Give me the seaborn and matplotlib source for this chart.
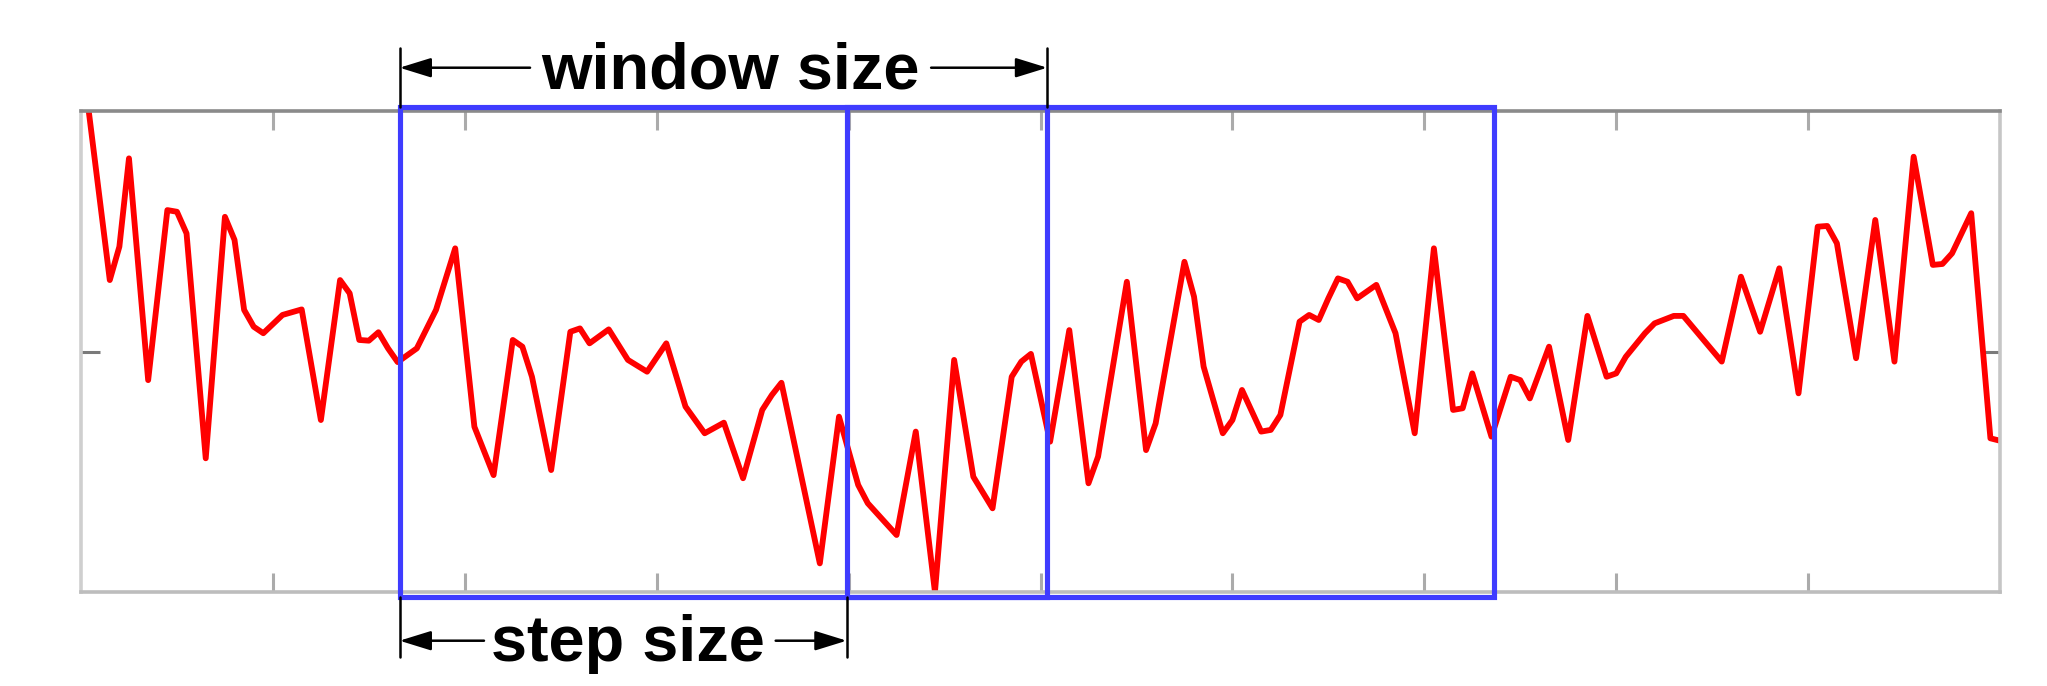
import matplotlib
matplotlib.use("Agg")
import matplotlib.pyplot as plt
from matplotlib.patches import Rectangle
import seaborn as sns
import pandas as pd

# ---- data ----
sample_index = [0, 3, 4, 5, 7, 9, 10, 11, 13, 15, 16, 17, 18, 19, 21, 23, 25, 27, 28, 29,
                30, 31, 32, 33, 35, 37, 39, 41, 43, 45, 46, 47, 49, 51, 52, 53, 55, 57, 59, 61,
                63, 65, 67, 69, 71, 72, 73, 77, 79, 81, 82, 85, 87, 89, 91, 93, 95, 97, 98, 99,
                101, 103, 105, 106, 109, 111, 112, 115, 116, 117, 119, 120, 121, 123, 124, 125,
                127, 128, 129, 130, 131, 132, 133, 134, 135, 137, 139, 141, 143, 144, 145, 147,
                149, 150, 151, 153, 155, 157, 159, 160, 161, 163, 164, 166, 167, 171, 173, 175,
                177, 179, 181, 182, 183, 185, 187, 189, 191, 193, 194, 195, 197, 199, 200]
signal_value = [2.258, 1.297, 1.436, 1.803, 0.881, 1.588, 1.581, 1.491, 0.556, 1.560, 1.464,
                1.173, 1.103, 1.076, 1.152, 1.175, 0.715, 1.297, 1.242, 1.048, 1.045, 1.080,
                1.013, 0.956, 1.013, 1.173, 1.429, 0.687, 0.486, 1.048, 1.020, 0.895, 0.507,
                1.082, 1.096, 1.034, 1.092, 0.965, 0.916, 1.034, 0.771, 0.660, 0.704, 0.473,
                0.757, 0.819, 0.870, 0.119, 0.729, 0.445, 0.369, 0.237, 0.667, 0.000, 0.965,
                0.479, 0.348, 0.895, 0.958, 0.990, 0.625, 1.089, 0.452, 0.563, 1.290, 0.590,
                0.701, 1.373, 1.228, 0.937, 0.660, 0.715, 0.840, 0.667, 0.674, 0.736, 1.124,
                1.152, 1.131, 1.221, 1.304, 1.290, 1.221, 1.249, 1.277, 1.076, 0.660, 1.429,
                0.757, 0.764, 0.909, 0.646, 0.895, 0.881, 0.805, 1.020, 0.632, 1.148, 0.895,
                0.909, 0.978, 1.076, 1.117, 1.148, 1.148, 0.958, 1.311, 1.082, 1.346, 0.826,
                1.519, 1.522, 1.450, 0.972, 1.547, 0.958, 1.810, 1.360, 1.364, 1.408, 1.575,
                0.639, 0.629]
window_starts = [33.2, 79.8]
window_size = 67.5
step_size = window_starts[1] - window_starts[0]
labels = ["window size", "step size"]

# ---- style ----
sns.set_theme(style="white")
plt.rcParams["font.family"] = ["Liberation Sans", "DejaVu Sans"]

fig = plt.figure(figsize=(20.47, 6.86), dpi=100)
ax = fig.add_axes([81 / 2047, (686 - 592) / 686, (2000 - 81) / 2047, (592 - 111) / 686])

df = pd.DataFrame({"x": sample_index, "y": signal_value})
sns.lineplot(data=df, x="x", y="y", ax=ax, color="#ff0000", linewidth=4.2,
             estimator=None, sort=True, zorder=2)

ax.set_xlim(0, 200)
ax.set_ylim(0, 2)
ax.set_xticks(range(20, 200, 20))
ax.set_yticks([1])
ax.set_xlabel("")
ax.set_ylabel("")
ax.tick_params(axis="x", direction="in", length=13.5, width=2.2, color="#ababab",
               top=True, bottom=True, labelbottom=False, labeltop=False)
ax.tick_params(axis="y", direction="in", length=13.5, width=2.2, color="#7a7a7a",
               left=True, right=True, labelleft=False, labelright=False)
spine_colors = {"top": "#8a8a8a", "left": "#cfcfcf", "bottom": "#bdbdbd", "right": "#c6c6c6"}
for side, col in spine_colors.items():
    ax.spines[side].set_color(col)
    ax.spines[side].set_linewidth(2.6)
    ax.spines[side].set_visible(True)

# ---- sliding windows ----
blue = "#3f3cff"
for s in window_starts:
    ax.add_patch(Rectangle((s, -0.02), window_size, 2.035, fill=False, edgecolor=blue,
                           linewidth=3.7, clip_on=False, zorder=4))

# ---- annotations ----
fs = 46.7
black_kw = dict(color="black", linewidth=1.8, clip_on=False, zorder=5)
arrow_props = dict(arrowstyle="-|>,head_length=0.97,head_width=0.3", mutation_scale=20,
                   color="black", linewidth=1.8, shrinkA=0, shrinkB=0)

# window size (top)
w0, w1 = window_starts[0], window_starts[0] + window_size
ax.plot([w0, w0], [2.015, 2.263], **black_kw)
ax.plot([w1, w1], [2.015, 2.263], **black_kw)
ax.annotate("", xy=(w0, 2.18), xytext=(46.8, 2.18), arrowprops=arrow_props,
            annotation_clip=False)
ax.annotate("", xy=(w1, 2.18), xytext=(88.6, 2.18), arrowprops=arrow_props,
            annotation_clip=False)
ax.text(67.7, 2.094, labels[0], ha="center", va="baseline", fontsize=fs,
        fontweight="bold", color="black", clip_on=False)

# step size (bottom)
s0, s1 = window_starts[0], window_starts[0] + step_size
ax.plot([s0, s0], [-0.0195, -0.269], **black_kw)
ax.plot([s1, s1], [-0.0195, -0.269], **black_kw)
ax.annotate("", xy=(s0, -0.2025), xytext=(42.0, -0.2025), arrowprops=arrow_props,
            annotation_clip=False)
ax.annotate("", xy=(s1, -0.2025), xytext=(72.4, -0.2025), arrowprops=arrow_props,
            annotation_clip=False)
ax.text(57.0, -0.2857, labels[1], ha="center", va="baseline", fontsize=fs,
        fontweight="bold", color="black", clip_on=False)

fig.savefig("out.png", dpi=100, facecolor="white")
